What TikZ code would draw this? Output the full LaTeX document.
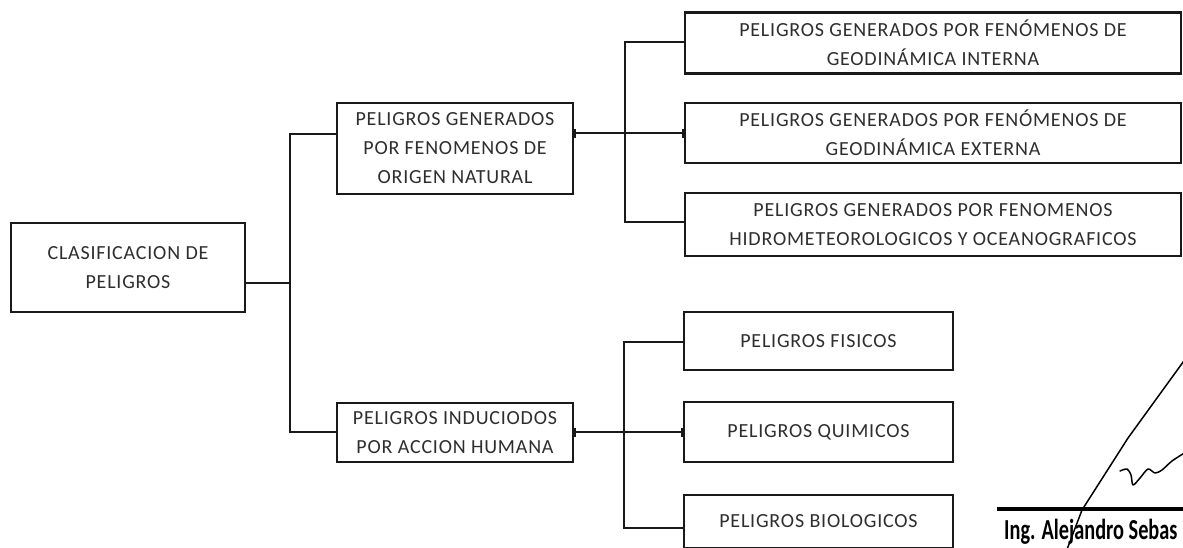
\documentclass[tikz,border=0pt]{standalone}
\usepackage{fontspec}
\setmainfont{Carlito}
\newfontfamily\boxfont[LetterSpace=4]{Carlito}
\newfontfamily\sigfont[FakeStretch=0.7]{Carlito Bold}
\usetikzlibrary{arrows.meta}
\begin{document}
\begin{tikzpicture}[x=1pt,y=-1pt,
  box/.style={draw=black!90, line width=2.4pt, text=black!82,
    font=\boxfont\fontsize{20}{29}\selectfont, align=center, inner sep=0pt},
  link/.style={draw=black!90, line width=2.4pt},
  barlink/.style={link, {Bar[width=9pt,line width=2.2pt]}-{Bar[width=9pt,line width=2.2pt]}},
  sigline/.style={draw=black, line width=1.5pt, line cap=round, line join=round}]
\clip (0,0) rectangle (1183,547);
\fill[white] (0,0) rectangle (1183,547);
% level 0
\node[box, minimum width=234pt, minimum height=89pt] (root) at (128,267.5) {CLASIFICACION DE\\PELIGROS};
% level 1
\node[box, minimum width=236pt, minimum height=91pt] (n1) at (455,148.5) {PELIGROS GENERADOS\\POR FENOMENOS DE\\ORIGEN NATURAL};
\node[box, minimum width=236pt, minimum height=59pt] (n2) at (455,432.5) {PELIGROS INDUCIODOS\\POR ACCION HUMANA};
% level 2, natural
\node[box, minimum width=496pt, minimum height=61pt] (a) at (933,43) {PELIGROS GENERADOS POR FENÓMENOS DE\\GEODINÁMICA INTERNA};
\node[box, minimum width=496pt, minimum height=60pt] (b) at (933,133) {PELIGROS GENERADOS POR FENÓMENOS DE\\GEODINÁMICA EXTERNA};
\node[box, minimum width=496pt, minimum height=63pt] (c) at (933,224.5) {PELIGROS GENERADOS POR FENOMENOS\\HIDROMETEOROLOGICOS Y OCEANOGRAFICOS};
% level 2, human
\node[box, minimum width=269pt, minimum height=58pt] (d) at (818.5,341) {PELIGROS FISICOS};
\node[box, minimum width=269pt, minimum height=60pt] (e) at (818.5,432) {PELIGROS QUIMICOS};
\node[box, minimum width=269pt, minimum height=53pt] (f) at (818.5,521.5) {PELIGROS BIOLOGICOS};
% connectors level 0 -> 1
\coordinate (j0) at (290,283);
\coordinate (j1) at (290,134);
\coordinate (j2) at (290,432);
\draw[link] (root.east |- j0) -- (j0);
\draw[link] (n1.west |- j1) -- (j1) -- (j2) -- (n2.west |- j2);
% connectors natural
\coordinate (k0) at (625,133);
\coordinate (k1) at (625,42);
\coordinate (k2) at (625,222);
\draw[barlink] (n1.east |- k0) -- (b.west |- k0);
\draw[link] (a.west |- k1) -- (k1) -- (k2) -- (c.west |- k2);
% connectors human
\coordinate (m0) at (624,432);
\coordinate (m1) at (624,342);
\coordinate (m2) at (624,528);
\draw[barlink] (n2.east |- m0) -- (e.west |- m0);
\draw[link] (d.west |- m1) -- (m1) -- (m2) -- (f.west |- m2);
% signature
\draw[draw=black, line width=3.2pt] (997,509) -- (1190,509);
\draw[sigline] (1066,552) -- (1082,510) -- (1128,438) -- (1186,358);
\draw[sigline] plot[smooth] coordinates {(1120,471) (1127,469) (1131,475) (1133,485) (1140,478) (1148,469) (1155,473) (1162,470) (1172,461) (1186,452)};
\node[anchor=base west, inner sep=0pt, font=\sigfont\fontsize{29}{29}\selectfont] (sig) at (1004,539) {Ing. Alejandro Sebas};
\end{tikzpicture}
\end{document}
